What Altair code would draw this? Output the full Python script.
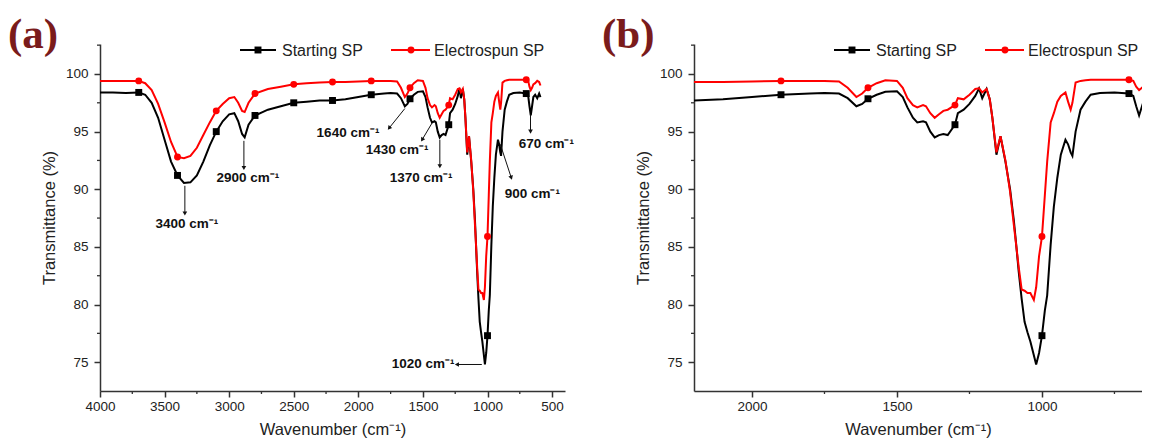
import math
import altair as alt
import pandas as pd

# ---------------- data ----------------
wavenumber = [
    4000, 3900, 3800, 3700, 3650, 3600, 3550, 3500, 3450, 3400,
    3350, 3300, 3250, 3200, 3150, 3100, 3050, 3000, 2960, 2930,
    2900, 2880, 2850, 2800, 2700, 2600, 2500, 2400, 2300, 2200,
    2100, 2000, 1900, 1800, 1750, 1700, 1670, 1640, 1620, 1600,
    1570, 1540, 1500, 1480, 1464, 1445, 1430, 1410, 1400, 1385,
    1370, 1355, 1340, 1325, 1300, 1290, 1270, 1250, 1230, 1217,
    1206, 1191, 1180, 1171, 1157, 1143, 1126, 1110, 1097, 1090,
    1080, 1070, 1060, 1050, 1040, 1028, 1020, 1010, 1000, 990,
    982, 970, 959, 947, 935, 919, 910, 901, 895, 884,
    867, 850, 832, 800, 750, 700, 685, 675, 665, 655,
    645, 631, 615, 600, 590,
]
starting_sp = [
    98.4, 98.4, 98.35, 98.4, 98.2, 97.5, 96.2, 94.3, 92.4, 91.2,
    90.55, 90.6, 91.2, 92.4, 93.8, 95.0, 95.9, 96.5, 96.6, 95.9,
    94.8, 94.5, 95.6, 96.4, 96.9, 97.2, 97.5, 97.6, 97.7, 97.7,
    97.8, 98.0, 98.2, 98.3, 98.35, 98.3, 97.9, 97.2, 97.4, 97.85,
    98.2, 98.45, 98.5, 98.0, 97.1, 96.2, 95.8, 95.9, 95.8, 95.0,
    94.5, 94.7, 94.8, 94.7, 95.6, 96.6, 96.9, 97.4, 98.1, 98.75,
    97.9, 98.7, 97.8, 96.2, 93.0, 94.6, 92.4, 90.0, 87.3, 85.5,
    82.8, 80.5, 78.5, 77.6, 76.8, 75.6, 74.8, 75.8, 77.3, 79.5,
    80.8, 85.2, 88.5, 91.0, 93.0, 94.3, 93.9, 93.2, 92.9, 95.0,
    96.9, 97.6, 98.2, 98.35, 98.4, 98.3, 98.1, 97.2, 96.4, 97.2,
    98.0, 98.2, 97.9, 98.3, 98.0,
]
electrospun_sp = [
    99.4, 99.4, 99.4, 99.4, 99.2, 98.6, 97.4, 95.8, 94.1, 92.8,
    92.7, 92.9, 93.6, 94.7, 95.8, 96.8, 97.4, 97.9, 98.0, 97.5,
    96.8, 96.7, 97.5, 98.3, 98.7, 98.9, 99.1, 99.2, 99.25, 99.3,
    99.3, 99.35, 99.4, 99.4, 99.4, 99.35, 98.8, 98.0, 98.3, 98.8,
    99.2, 99.45, 99.4, 98.8, 97.9, 97.3, 97.1, 97.3, 97.2, 96.6,
    96.2, 96.5, 96.8, 96.9, 97.3, 97.9, 97.8, 98.2, 98.7, 98.75,
    98.4, 98.7, 97.8, 96.2, 93.2, 94.6, 92.5, 89.8, 86.9, 85.4,
    83.2, 81.3, 81.2, 81.0, 81.0, 80.4, 81.5, 84.2, 85.9, 89.5,
    92.4, 95.8, 96.6, 97.6, 98.1, 98.4, 97.6, 96.9, 97.5, 99.25,
    99.4, 99.45, 99.5, 99.5, 99.5, 99.5, 99.4, 98.9, 98.6, 98.8,
    99.1, 99.2, 99.4, 99.3, 99.0,
]
marker_wavenumbers = [3700, 3400, 3100, 2800, 2500, 2200, 1900, 1600, 1300, 1000, 700]

series_names = ["Starting SP", "Electrospun SP"]
series_colors = ["#000000", "#ff0000"]
series_shapes = ["square", "circle"]

y_ticks = [75, 80, 85, 90, 95, 100]
y_minor = [77.5, 82.5, 87.5, 92.5, 97.5, 102.5]
a_x_ticks = [4000, 3500, 3000, 2500, 2000, 1500, 1000, 500]
a_x_minor = [3750, 3250, 2750, 2250, 1750, 1250, 750]
b_x_ticks = [2000, 1500, 1000]
b_x_minor = [1750, 1250, 750]

peak_labels = ["3400 cm⁻¹", "2900 cm⁻¹", "1640 cm⁻¹", "1430 cm⁻¹",
               "1370 cm⁻¹", "900 cm⁻¹", "670 cm⁻¹", "1020 cm⁻¹"]
label_x = [3328, 2855, 2080, 1700, 1514, 653, 545, 1498]
label_y = [87.0, 91.0, 94.9, 93.4, 91.0, 89.55, 93.9, 74.8]
arrow_x1 = [3343, 2886, 1640, 1429, 1369, 901, 667, 1044]
arrow_y1 = [90.3, 94.2, 97.0, 95.75, 94.3, 93.9, 96.5, 74.8]
arrow_x2 = [3343, 2886, 1762, 1506, 1369, 816, 667, 1237]
arrow_y2 = [87.9, 91.85, 95.3, 94.3, 92.0, 91.0, 95.0, 74.8]

# ---------------- layout / style ----------------
Y_DOMAIN = [72.5, 102.6]
PLOT_H = 347
A_DOMAIN = [400, 4000]
A_W = 465
B_DOMAIN = [655, 2200]
B_W = 448
FONT = "Liberation Sans"
INK = "#222222"

rows = []
for i, w in enumerate(wavenumber):
    rows.append({"wn": w, "T": starting_sp[i], "series": series_names[0]})
    rows.append({"wn": w, "T": electrospun_sp[i], "series": series_names[1]})
df = pd.DataFrame(rows)


def arrow_frame(width, domain):
    sx = width / (domain[1] - domain[0])
    sy = PLOT_H / (Y_DOMAIN[1] - Y_DOMAIN[0])
    ang = []
    for x1, y1, x2, y2 in zip(arrow_x1, arrow_y1, arrow_x2, arrow_y2):
        dxp = -(x2 - x1) * sx
        dyp = -(y2 - y1) * sy
        ang.append(math.degrees(math.atan2(dxp, -dyp)) % 360)
    return pd.DataFrame({"x1": arrow_x1, "y1": arrow_y1, "x2": arrow_x2,
                         "y2": arrow_y2, "ang": ang})


def panel(domain, width, x_ticks, x_minor, tag, annotate):
    xs = alt.Scale(domain=domain, reverse=True, nice=False, zero=False)
    ys = alt.Scale(domain=Y_DOMAIN, nice=False, zero=False)
    x_axis = alt.Axis(values=x_ticks, format="d", title="Wavenumber (cm⁻¹)",
                      labelPadding=2, titlePadding=9, labelFlush=False)
    y_axis = alt.Axis(values=y_ticks, format="d", title="Transmittance (%)",
                      labelPadding=6, titlePadding=8, labelFlush=False)

    def X(f):
        return alt.X(f, scale=xs, axis=x_axis)

    def Y(f):
        return alt.Y(f, scale=ys, axis=y_axis)

    layers = []
    for name, col, shp in zip(series_names, series_colors, series_shapes):
        sub = alt.Chart(df).transform_filter(alt.datum.series == name)
        layers.append(
            sub.mark_line(color=col, strokeWidth=2, clip=True).encode(
                x=X("wn:Q"), y=Y("T:Q"), order=alt.Order("wn:Q"))
        )
        layers.append(
            sub.transform_filter(alt.FieldOneOfPredicate(field="wn", oneOf=marker_wavenumbers))
            .transform_filter((alt.datum.wn > domain[0]) & (alt.datum.wn < domain[1]))
            .mark_point(shape=shp, filled=True, size=48, color=col, opacity=1)
            .encode(x=X("wn:Q"), y=Y("T:Q"))
        )
    # minor ticks
    layers.append(
        alt.Chart(pd.DataFrame({"v": y_minor})).mark_rule(color="#333", strokeWidth=1.3)
        .encode(y=Y("v:Q"), x=alt.value(-3), x2=alt.value(0))
    )
    layers.append(
        alt.Chart(pd.DataFrame({"v": x_minor})).mark_rule(color="#333", strokeWidth=1.3)
        .encode(x=X("v:Q"), y=alt.value(PLOT_H), y2=alt.value(PLOT_H + 3))
    )
    # legend
    leg = [(140, 176, 158, 182), (291, 330, 311, 334)]
    for (x1, x2, xm, xt), name, col, shp in zip(leg, series_names, series_colors, series_shapes):
        one = alt.Chart(pd.DataFrame({"s": [name]}))
        layers.append(one.mark_rule(color=col, strokeWidth=2).encode(
            x=alt.value(x1), x2=alt.value(x2), y=alt.value(6)))
        layers.append(one.mark_point(shape=shp, filled=True, size=48, color=col, opacity=1).encode(
            x=alt.value(xm), y=alt.value(6)))
        layers.append(one.mark_text(align="left", baseline="middle", font=FONT, fontSize=16,
                                    color=INK).encode(text="s:N", x=alt.value(xt), y=alt.value(7)))
    # panel tag
    layers.append(
        alt.Chart(pd.DataFrame({"t": [tag]})).mark_text(
            align="left", baseline="alphabetic", font="Liberation Serif", fontWeight="bold",
            fontSize=43, color="#7a1b1b").encode(text="t:N", x=alt.value(-92), y=alt.value(4))
    )
    if annotate:
        arr = arrow_frame(width, domain)
        lab = pd.DataFrame({"label": peak_labels, "lx": label_x, "ly": label_y})
        layers.append(
            alt.Chart(arr).mark_rule(color="#111", strokeWidth=1).encode(
                x=X("x1:Q"), x2="x2:Q", y=Y("y1:Q"), y2="y2:Q")
        )
        layers.append(
            alt.Chart(arr).mark_point(shape="triangle-up", filled=True, size=22, color="#111",
                                      opacity=1).encode(
                x=X("x2:Q"), y=Y("y2:Q"), angle=alt.Angle("ang:Q", scale=None))
        )
        layers.append(
            alt.Chart(lab).mark_text(font=FONT, fontWeight="bold", fontSize=13.5, color="#111",
                                     align="center", baseline="middle").encode(
                x=X("lx:Q"), y=Y("ly:Q"), text="label:N")
        )
    return alt.layer(*layers).properties(width=width, height=PLOT_H)


pa = panel(A_DOMAIN, A_W, a_x_ticks, a_x_minor, "(a)", True)
pb = panel(B_DOMAIN, B_W, b_x_ticks, b_x_minor, "(b)", False)

chart = (
    alt.hconcat(pa, pb, spacing=28)
    .properties(padding={"left": 0, "top": 6, "right": 0, "bottom": 0}, background="white")
    .configure_view(stroke=None)
    .configure_axis(
        grid=False, labelFont=FONT, titleFont=FONT, labelFontSize=13.5, titleFontSize=16.5,
        titleFontWeight="normal", labelColor=INK, titleColor=INK, domainColor="#333",
        tickColor="#333", domainWidth=1.5, tickWidth=1.5, tickSize=6,
    )
)

chart.save("out.html", embed_options={"renderer": "svg", "actions": False})
